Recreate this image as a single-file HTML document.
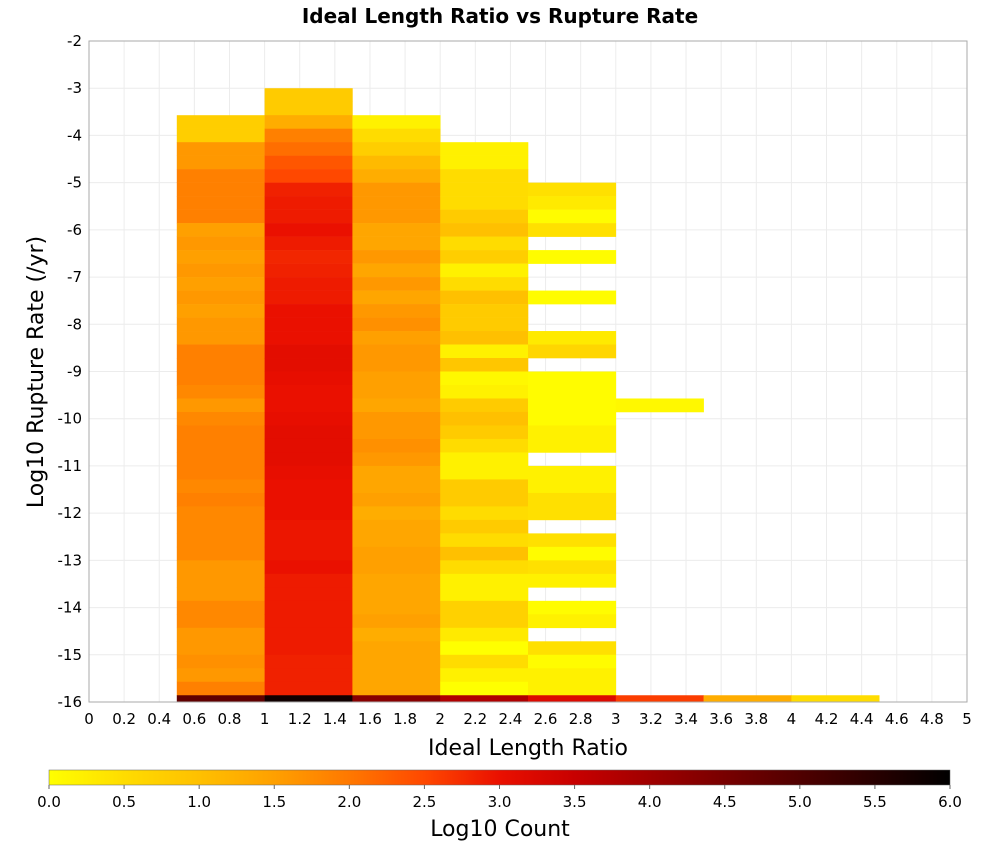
<!DOCTYPE html>
<html><head><meta charset="utf-8"><style>
body{margin:0;background:#fff;font-family:"Liberation Sans","DejaVu Sans",sans-serif}
svg text{font-family:"DejaVu Sans","Liberation Sans",sans-serif}
</style></head><body>
<svg id="chart" width="1000" height="850" xmlns="http://www.w3.org/2000/svg">
<text x="500" y="23" text-anchor="middle" font-size="20" font-weight="bold">Ideal Length Ratio vs Rupture Rate</text>
<g id="grid"></g><g id="cells"></g>
<rect x="89" y="41" width="878" height="661" fill="none" stroke="#aaa"/>
<g id="axes"></g>
<text x="528" y="755" text-anchor="middle" font-size="22">Ideal Length Ratio</text>
<text transform="translate(43,372) rotate(-90)" text-anchor="middle" font-size="22">Log10 Rupture Rate (/yr)</text>
<defs><linearGradient id="cg" x1="0" x2="1" y1="0" y2="0"></linearGradient></defs>
<rect x="49" y="770" width="901" height="15" fill="url(#cg)" stroke="#666" stroke-width="0.5"/>
<g id="cbticks"></g>
<text x="500" y="836" text-anchor="middle" font-size="22">Log10 Count</text>
</svg>
<script>
const xBinStarts=[0.5,1.0,1.5,2.0,2.5,3.0,3.5,4.0];
const colTopK=[43,45,43,41,38,22,0,0];
const colA=[0.75,0.75,1.6,1.6,1.9,1.9,1.9,1.9,1.5,1.6,1.5,1.6,1.5,1.6,1.5,1.6,1.6,1.9,1.9,1.9,1.8,1.6,1.8,1.9,1.9,1.9,1.9,1.8,1.9,1.8,1.8,1.8,1.8,1.6,1.6,1.6,1.8,1.8,1.6,1.6,1.7,1.6,1.9,4.8];
const colB=[0.8,0.8,1.3,1.9,2.1,2.35,2.5,2.85,2.9,2.9,3.0,2.9,2.8,2.85,2.9,2.9,3.0,3.0,3.0,3.1,3.1,3.05,3.0,3.0,3.05,3.1,3.1,3.1,3.05,3.0,3.0,3.0,2.95,2.95,2.95,3.0,2.9,2.9,2.9,2.9,2.9,2.9,2.85,2.85,2.85,5.8];
const colC=[0.2,0.5,0.75,1.1,1.3,1.6,1.6,1.6,1.4,1.4,1.6,1.4,1.6,1.4,1.6,1.7,1.5,1.6,1.6,1.5,1.5,1.4,1.6,1.6,1.7,1.6,1.4,1.4,1.5,1.3,1.4,1.4,1.5,1.5,1.4,1.4,1.4,1.5,1.3,1.4,1.4,1.4,1.4,4.3];
const colD=[0.2,0.2,0.5,0.5,0.5,0.8,1.0,0.5,0.75,0.2,0.5,1.0,0.8,0.8,1.0,0.2,0.9,0.1,0.2,0.8,1.0,0.8,0.5,0.2,0.2,0.8,0.8,0.5,0.8,0.5,1.0,0.5,0.2,0.2,0.7,0.7,0.3,0.0,0.5,0.2,0.0,3.8];
const colE=[0.45,0.3,0.05,0.45,null,0.05,null,null,0.05,null,null,0.3,0.6,null,0.05,0.05,0.05,0.05,0.2,0.2,null,0.2,0.2,0.45,0.45,null,0.45,0.05,0.45,0.2,null,0.05,0.2,null,0.45,0.05,0.2,0.2,3.2];
const colF=[0.1,null,null,null,null,null,null,null,null,null,null,null,null,null,null,null,null,null,null,null,null,null,2.6];
const colG=[1.3];
const colH=[0.5];
const xTickLabels=["0","0.2","0.4","0.6","0.8","1","1.2","1.4","1.6","1.8","2","2.2","2.4","2.6","2.8","3","3.2","3.4","3.6","3.8","4","4.2","4.4","4.6","4.8","5"];
const yTickLabels=["-2","-3","-4","-5","-6","-7","-8","-9","-10","-11","-12","-13","-14","-15","-16"];
const cbTickLabels=["0.0","0.5","1.0","1.5","2.0","2.5","3.0","3.5","4.0","4.5","5.0","5.5","6.0"];
const cols=[colA,colB,colC,colD,colE,colF,colG,colH];
const NS="http://www.w3.org/2000/svg";
const X=v=>89+v*175.6, Y=v=>41+(-2-v)*661/14;
const stops=[[0,[255,255,0]],[0.5,[255,220,0]],[1,[255,192,0]],[1.5,[255,160,0]],[2,[255,120,0]],[2.5,[255,72,0]],[3,[234,16,0]],[3.5,[200,0,0]],[4,[160,0,0]],[5,[80,0,0]],[6,[0,0,0]]];
function color(v){for(let i=1;i<stops.length;i++){if(v<=stops[i][0]){const a=stops[i-1],b=stops[i],t=(v-a[0])/(b[0]-a[0]);return 'rgb('+a[1].map((c,j)=>Math.round(c+(b[1][j]-c)*t)).join(',')+')';}}return '#000';}
function mk(tag,attrs,parent){const e=document.createElementNS(NS,tag);for(const k in attrs)e.setAttribute(k,attrs[k]);parent.appendChild(e);return e;}
const grid=document.getElementById('grid'),cells=document.getElementById('cells'),axes=document.getElementById('axes');
xTickLabels.forEach((l,i)=>{const x=X(parseFloat(l));
 const g=mk('line',{x1:x,x2:x,y1:41,y2:702,stroke:'#ececec'},grid);
 
 
 const t=mk('text',{x:x,y:724,'text-anchor':'middle','font-size':15},axes);t.textContent=l;
 
 });
yTickLabels.forEach(l=>{const y=Y(parseFloat(l));
 const g=mk('line',{x1:89,x2:967,y1:y,y2:y,stroke:'#ececec'},grid);
 
 
 const t=mk('text',{x:82,y:y+5,'text-anchor':'end','font-size':15},axes);t.textContent=l;
 
 });
const dy=2/7;
cols.forEach((arr,c)=>{arr.forEach((v,j)=>{if(v===null)return;const k=colTopK[c]-j;const cen=-16+k*dy;
 const top=cen+dy/2,bot=Math.max(-16,cen-dy/2);
 const r=mk('rect',{x:X(xBinStarts[c]),y:Y(top),width:X(xBinStarts[c]+0.5)-X(xBinStarts[c])+0.3,height:Y(bot)-Y(top)+0.3,fill:color(v)},cells);
 
 });});
const cg=document.getElementById('cg');
stops.forEach(s=>mk('stop',{offset:(s[0]/6*100)+'%','stop-color':'rgb('+s[1].join(',')+')'},cg));
const cbt=document.getElementById('cbticks');
cbTickLabels.forEach(l=>{const x=49+parseFloat(l)/6*901;
 mk('line',{x1:x,x2:x,y1:785,y2:789,stroke:'#666'},cbt);
 const t=mk('text',{x:x,y:807,'text-anchor':'middle','font-size':15},cbt);t.textContent=l;
 
 });
</script>
</body></html>
